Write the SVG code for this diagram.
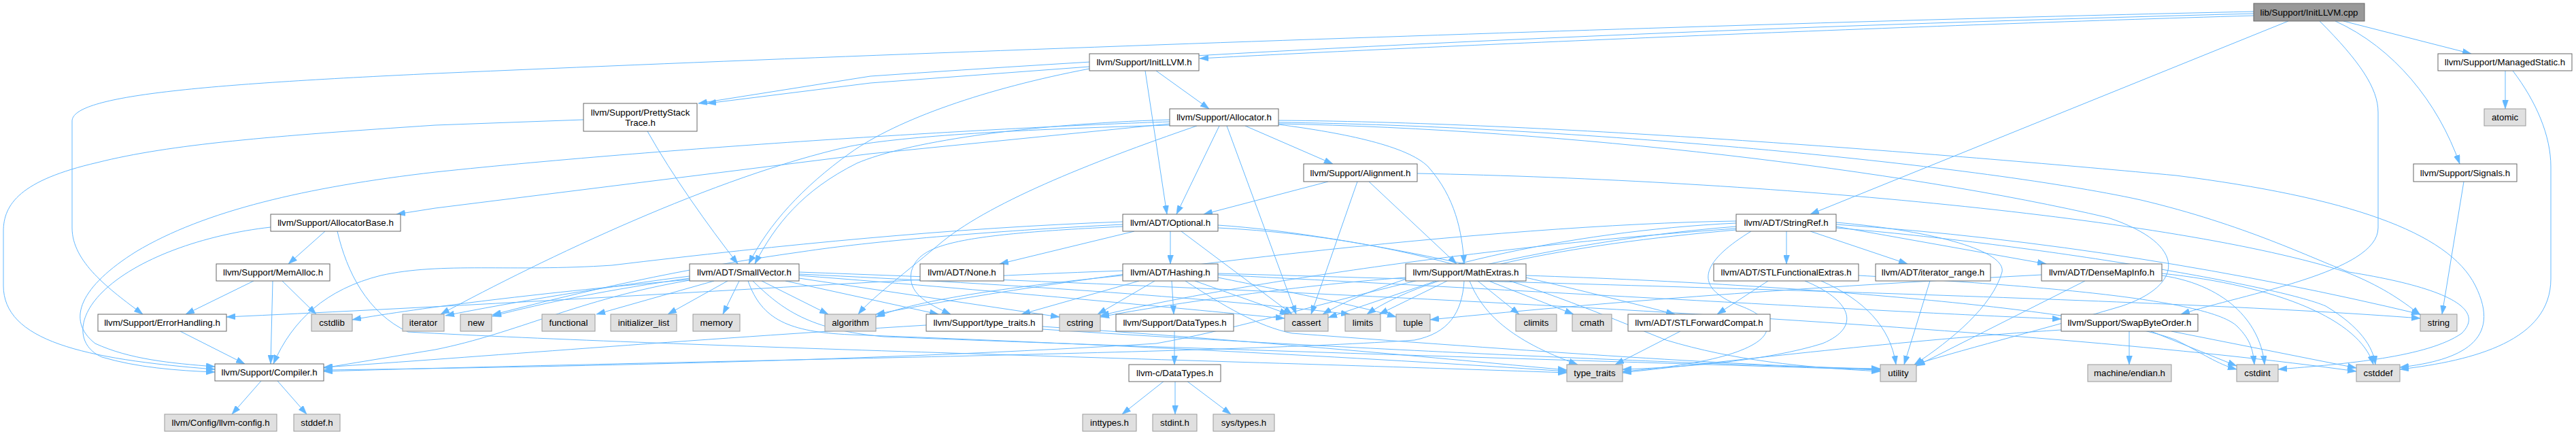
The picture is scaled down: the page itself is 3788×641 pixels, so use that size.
<svg xmlns="http://www.w3.org/2000/svg" width="3788" height="641" viewBox="0 0 3788 641">
<style>
.n rect{fill:#fff;stroke:#666;stroke-width:1}
.g rect{fill:#e0e0e0;stroke:#999;stroke-width:1}
.r rect{fill:#999;stroke:#666;stroke-width:1}
text{font-family:"Liberation Sans",Arial,Helvetica,sans-serif;font-size:13.3px;fill:#000;text-anchor:middle}
#edges path{fill:none;stroke:#63b8ff;stroke-width:1;marker-end:url(#ah)}
</style>
<defs>
<marker id="ah" viewBox="0 0 13 9" refX="13" refY="4.5" markerWidth="13" markerHeight="9" markerUnits="userSpaceOnUse" orient="auto"><path d="M0,0L13,4.5L0,9z" fill="#63b8ff" stroke="#63b8ff" stroke-width="0.5"/></marker>
</defs>
<rect width="3788" height="641" fill="#fff"/>
<g id="edges">
<path d="M3314,23 C2800,38 2100,68 1764,86"/>
<path d="M3314,17 C2700,30 1500,70 640,108 C300,124 106,140 106,178 L106,335 C106,385 160,425 210,462"/>
<path d="M3314,20 C2700,36 2000,62 1280,112 L1027,152"/>
<path d="M3365,31 L2662,315"/>
<path d="M3411,31 C3470,90 3497,130 3497,165 L3497,335 C3497,400 3300,432 3207,462"/>
<path d="M3434,31 C3520,70 3585,150 3617,241"/>
<path d="M3446,31 L3634,79"/>
<path d="M1684,104 L1716,315"/>
<path d="M1700,104 L1778,160"/>
<path d="M1602,101 C1450,130 1320,175 1250,225 C1180,275 1130,330 1101,388"/>
<path d="M1602,98 L1280,122 L1040,152"/>
<path d="M3684,104 L3684,160"/>
<path d="M3695,104 C3730,150 3751,200 3751,245 L3751,410 C3751,500 3640,530 3529,543"/>
<path d="M3623,267 L3591,462"/>
<path d="M952,193 C990,260 1040,330 1085,388"/>
<path d="M858,176 L640,184 C400,200 250,212 143,239 C30,265 5,300 5,340 L5,420 C5,500 120,528 316,543"/>
<path d="M1793,185 L1730,315"/>
<path d="M1804,185 L1906,462"/>
<path d="M1831,185 L1960,241"/>
<path d="M1880,183 C1980,196 2070,215 2100,245 C2140,290 2150,340 2153,388"/>
<path d="M1720,182 L1280,226 L640,306 L583,315"/>
<path d="M1720,179 C1500,186 1000,215 640,253 C450,275 300,310 200,370 C120,420 95,470 140,505 C190,528 250,534 316,539"/>
<path d="M1720,176 C1500,183 1330,210 1260,240 C1180,280 1140,330 1110,388"/>
<path d="M1760,185 C1600,240 1450,300 1380,360 C1320,410 1280,440 1262,462"/>
<path d="M1720,184 C1500,190 1330,200 1250,215 C1050,260 800,380 648,462"/>
<path d="M1880,177 C2300,180 2900,230 3200,258 C3450,290 3600,340 3640,420 C3680,500 3620,530 3529,540"/>
<path d="M1880,180 C2300,185 2900,240 3148,294 C3300,330 3400,380 3454,400 C3580,420 3660,450 3620,490 C3570,525 3450,535 3350,543"/>
<path d="M1880,182 C2300,190 2800,250 3100,320 C3220,360 3210,420 3120,450 C3020,480 2900,510 2815,536"/>
<path d="M478,340 L424,388"/>
<path d="M398,334 C300,345 200,380 150,430 C110,470 115,510 150,525 C200,540 260,545 316,547"/>
<path d="M496,340 C510,400 540,460 600,488 C1000,510 1800,530 2304,548"/>
<path d="M373,413 L273,462"/>
<path d="M401,413 L398,535"/>
<path d="M415,413 L465,462"/>
<path d="M265,487 L360,535"/>
<path d="M384,560 L341,609"/>
<path d="M408,560 L451,609"/>
<path d="M1014,406 C900,420 750,445 655,464"/>
<path d="M1014,409 C900,425 800,445 724,465"/>
<path d="M1050,413 L877,462"/>
<path d="M1070,413 L982,462"/>
<path d="M1087,413 L1063,462"/>
<path d="M1120,413 L1218,462"/>
<path d="M1155,413 L1380,462"/>
<path d="M1175,409 L1558,466"/>
<path d="M1175,405 C1500,430 1750,455 1889,468"/>
<path d="M1175,403 C1500,418 1800,440 1985,462"/>
<path d="M1014,411 C800,430 620,452 518,470"/>
<path d="M1014,412 C850,440 760,490 640,514 L476,541"/>
<path d="M1100,413 C1120,470 1160,488 1250,492 C1600,505 2000,525 2304,546"/>
<path d="M1107,413 C1150,455 1190,485 1300,495 C1800,515 2400,532 2765,544"/>
<path d="M1175,400 C2000,430 3000,480 3465,546"/>
<path d="M1668,340 L1470,388"/>
<path d="M1721,340 L1721,388"/>
<path d="M1737,340 L1900,462"/>
<path d="M1651,330 C1450,340 1280,355 1180,370 C1000,395 850,430 724,463"/>
<path d="M1651,326 C1400,335 1150,360 900,390 C750,400 650,385 560,405 C480,425 430,470 402,535"/>
<path d="M1651,333 C1400,345 1350,360 1340,400 C1335,430 1360,445 1398,462"/>
<path d="M1791,331 C2000,345 2300,420 2463,462"/>
<path d="M1791,335 C2100,350 2300,440 2450,500 C2550,530 2650,540 2765,546"/>
<path d="M1723,413 L1726,462"/>
<path d="M1698,413 L1614,462"/>
<path d="M1675,413 L1502,462"/>
<path d="M1651,405 C1500,420 1350,440 1288,466"/>
<path d="M1757,413 L1895,462"/>
<path d="M1791,408 C1900,430 2000,450 2053,466"/>
<path d="M1791,402 C2400,420 3200,440 3559,468"/>
<path d="M1743,413 C1800,450 1850,480 1900,490 C2300,520 2600,540 2765,542"/>
<path d="M1791,404 C2300,430 2800,460 3031,469"/>
<path d="M1651,398 C1300,410 900,440 333,466"/>
<path d="M2013,267 L2142,388"/>
<path d="M1996,267 L1928,462"/>
<path d="M1953,267 L1770,315"/>
<path d="M2084,255 C2600,265 3200,320 3450,400 C3500,420 3530,440 3559,463"/>
<path d="M2112,413 L1953,467"/>
<path d="M2128,413 L2028,462"/>
<path d="M2173,413 L2234,462"/>
<path d="M2189,413 L2314,462"/>
<path d="M2161,413 C2180,460 2220,500 2320,536"/>
<path d="M2153,413 C2150,460 2130,490 2080,500 C1800,520 1000,530 476,546"/>
<path d="M2067,408 C1900,420 1700,450 1618,466"/>
<path d="M2244,405 C2700,420 3100,460 3200,500 C3240,520 3260,535 3289,543"/>
<path d="M2627,340 L2627,388"/>
<path d="M2662,340 L2805,388"/>
<path d="M2700,333 L3009,388"/>
<path d="M2700,327 C2850,340 2950,370 2944,400 C2930,450 2870,500 2815,536"/>
<path d="M2700,330 C3000,350 3300,400 3559,462"/>
<path d="M2700,335 C3000,360 3350,420 3420,450 C3470,480 3490,510 3493,536"/>
<path d="M2575,340 C2510,380 2480,420 2560,450 C2640,480 2600,530 2386,546"/>
<path d="M2553,333 C2200,360 1900,470 1700,505 C1300,530 800,540 476,544"/>
<path d="M2553,325 C2200,330 1600,400 1288,462"/>
<path d="M2553,328 C2300,340 2050,400 1945,462"/>
<path d="M2553,336 C2200,360 1800,420 1618,464"/>
<path d="M2553,338 C2300,360 2100,400 2010,462"/>
<path d="M2600,413 L2525,462"/>
<path d="M2678,413 C2740,440 2780,480 2788,536"/>
<path d="M2654,413 C2720,440 2740,480 2680,505 C2600,530 2480,540 2386,543"/>
<path d="M2733,405 C3000,420 3250,440 3290,480 C3310,500 3313,515 3315,536"/>
<path d="M2838,413 L2800,536"/>
<path d="M3066,413 L2818,538"/>
<path d="M3179,405 C3280,420 3325,480 3330,536"/>
<path d="M3179,402 C3350,420 3470,470 3490,536"/>
<path d="M3002,404 C2700,420 2400,440 2103,470"/>
<path d="M3131,487 L3131,536"/>
<path d="M3163,487 L3289,538"/>
<path d="M3193,487 L3465,541"/>
<path d="M3031,485 C2800,500 2550,530 2386,548"/>
<path d="M2471,487 L2375,536"/>
<path d="M1362,478 C1000,500 700,525 476,540"/>
<path d="M1533,480 C1900,505 2150,530 2304,544"/>
<path d="M1533,484 C2000,515 2500,535 2765,543"/>
<path d="M1727,487 L1727,536"/>
<path d="M1712,560 L1650,609"/>
<path d="M1728,560 L1728,609"/>
<path d="M1745,560 L1810,609"/>
</g>
<g id="n_root" class="r"><rect x="3314" y="5" width="163" height="26"/><text x="3395.5" y="22.5">lib/Support/InitLLVM.cpp</text></g>
<g id="n_InitLLVM_h" class="n"><rect x="1602" y="79" width="161" height="25"/><text x="1682.5" y="96">llvm/Support/InitLLVM.h</text></g>
<g id="n_ManagedStatic" class="n"><rect x="3585" y="79" width="197" height="25"/><text x="3683.5" y="96">llvm/Support/ManagedStatic.h</text></g>
<g id="n_PrettyStackTrace" class="n"><rect x="858" y="152" width="167" height="41"/><text x="941.5" y="170">llvm/Support/PrettyStack</text><text x="941.5" y="185">Trace.h</text></g>
<g id="n_Allocator" class="n"><rect x="1720" y="160" width="160" height="25"/><text x="1800" y="177">llvm/Support/Allocator.h</text></g>
<g id="n_atomic" class="g"><rect x="3653" y="160" width="61" height="25"/><text x="3683.5" y="177">atomic</text></g>
<g id="n_Alignment" class="n"><rect x="1917" y="241" width="167" height="26"/><text x="2000.5" y="258.5">llvm/Support/Alignment.h</text></g>
<g id="n_Signals" class="n"><rect x="3549" y="241" width="152" height="26"/><text x="3625" y="258.5">llvm/Support/Signals.h</text></g>
<g id="n_AllocatorBase" class="n"><rect x="398" y="315" width="191" height="25"/><text x="493.5" y="332">llvm/Support/AllocatorBase.h</text></g>
<g id="n_Optional" class="n"><rect x="1651" y="315" width="140" height="25"/><text x="1721" y="332">llvm/ADT/Optional.h</text></g>
<g id="n_StringRef" class="n"><rect x="2553" y="315" width="147" height="25"/><text x="2626.5" y="332">llvm/ADT/StringRef.h</text></g>
<g id="n_MemAlloc" class="n"><rect x="318" y="388" width="167" height="25"/><text x="401.5" y="405">llvm/Support/MemAlloc.h</text></g>
<g id="n_SmallVector" class="n"><rect x="1014" y="388" width="161" height="25"/><text x="1094.5" y="405">llvm/ADT/SmallVector.h</text></g>
<g id="n_None" class="n"><rect x="1353" y="388" width="123" height="25"/><text x="1414.5" y="405">llvm/ADT/None.h</text></g>
<g id="n_Hashing" class="n"><rect x="1651" y="388" width="140" height="25"/><text x="1721" y="405">llvm/ADT/Hashing.h</text></g>
<g id="n_MathExtras" class="n"><rect x="2067" y="388" width="177" height="25"/><text x="2155.5" y="405">llvm/Support/MathExtras.h</text></g>
<g id="n_STLFunctionalExtras" class="n"><rect x="2520" y="388" width="213" height="25"/><text x="2626.5" y="405">llvm/ADT/STLFunctionalExtras.h</text></g>
<g id="n_iterator_range" class="n"><rect x="2758" y="388" width="169" height="25"/><text x="2842.5" y="405">llvm/ADT/iterator_range.h</text></g>
<g id="n_DenseMapInfo" class="n"><rect x="3002" y="388" width="177" height="25"/><text x="3090.5" y="405">llvm/ADT/DenseMapInfo.h</text></g>
<g id="n_ErrorHandling" class="n"><rect x="144" y="462" width="189" height="25"/><text x="238.5" y="479">llvm/Support/ErrorHandling.h</text></g>
<g id="n_cstdlib" class="g"><rect x="458" y="462" width="60" height="25"/><text x="488" y="479">cstdlib</text></g>
<g id="n_iterator" class="g"><rect x="592" y="462" width="61" height="25"/><text x="622.5" y="479">iterator</text></g>
<g id="n_new" class="g"><rect x="677" y="462" width="46" height="25"/><text x="700" y="479">new</text></g>
<g id="n_functional" class="g"><rect x="797" y="462" width="78" height="25"/><text x="836" y="479">functional</text></g>
<g id="n_initializer_list" class="g"><rect x="898" y="462" width="97" height="25"/><text x="946.5" y="479">initializer_list</text></g>
<g id="n_memory" class="g"><rect x="1019" y="462" width="69" height="25"/><text x="1053.5" y="479">memory</text></g>
<g id="n_algorithm" class="g"><rect x="1213" y="462" width="75" height="25"/><text x="1250.5" y="479">algorithm</text></g>
<g id="n_type_traits_h" class="n"><rect x="1362" y="462" width="171" height="25"/><text x="1447.5" y="479">llvm/Support/type_traits.h</text></g>
<g id="n_cstring" class="g"><rect x="1558" y="462" width="60" height="25"/><text x="1588" y="479">cstring</text></g>
<g id="n_DataTypes" class="n"><rect x="1641" y="462" width="173" height="25"/><text x="1727.5" y="479">llvm/Support/DataTypes.h</text></g>
<g id="n_cassert" class="g"><rect x="1889" y="462" width="64" height="25"/><text x="1921" y="479">cassert</text></g>
<g id="n_limits" class="g"><rect x="1978" y="462" width="52" height="25"/><text x="2004" y="479">limits</text></g>
<g id="n_tuple" class="g"><rect x="2053" y="462" width="50" height="25"/><text x="2078" y="479">tuple</text></g>
<g id="n_climits" class="g"><rect x="2229" y="462" width="60" height="25"/><text x="2259" y="479">climits</text></g>
<g id="n_cmath" class="g"><rect x="2312" y="462" width="58" height="25"/><text x="2341" y="479">cmath</text></g>
<g id="n_STLForwardCompat" class="n"><rect x="2394" y="462" width="209" height="25"/><text x="2498.5" y="479">llvm/ADT/STLForwardCompat.h</text></g>
<g id="n_SwapByteOrder" class="n"><rect x="3031" y="462" width="201" height="25"/><text x="3131.5" y="479">llvm/Support/SwapByteOrder.h</text></g>
<g id="n_string" class="g"><rect x="3559" y="462" width="54" height="25"/><text x="3586" y="479">string</text></g>
<g id="n_Compiler" class="n"><rect x="316" y="535" width="160" height="25"/><text x="396" y="552">llvm/Support/Compiler.h</text></g>
<g id="n_c_DataTypes" class="n"><rect x="1660" y="536" width="135" height="25"/><text x="1727.5" y="553">llvm-c/DataTypes.h</text></g>
<g id="n_type_traits" class="g"><rect x="2304" y="536" width="82" height="25"/><text x="2345" y="553">type_traits</text></g>
<g id="n_utility" class="g"><rect x="2765" y="536" width="53" height="25"/><text x="2791.5" y="553">utility</text></g>
<g id="n_endian" class="g"><rect x="3070" y="536" width="123" height="25"/><text x="3131.5" y="553">machine/endian.h</text></g>
<g id="n_cstdint" class="g"><rect x="3289" y="536" width="61" height="25"/><text x="3319.5" y="553">cstdint</text></g>
<g id="n_cstddef" class="g"><rect x="3465" y="536" width="64" height="25"/><text x="3497" y="553">cstddef</text></g>
<g id="n_llvm_config" class="g"><rect x="242" y="609" width="165" height="25"/><text x="324.5" y="626">llvm/Config/llvm-config.h</text></g>
<g id="n_stddef" class="g"><rect x="432" y="609" width="68" height="25"/><text x="466" y="626">stddef.h</text></g>
<g id="n_inttypes" class="g"><rect x="1592" y="609" width="79" height="25"/><text x="1631.5" y="626">inttypes.h</text></g>
<g id="n_stdint" class="g"><rect x="1695" y="609" width="65" height="25"/><text x="1727.5" y="626">stdint.h</text></g>
<g id="n_systypes" class="g"><rect x="1784" y="609" width="90" height="25"/><text x="1829" y="626">sys/types.h</text></g>
</svg>
